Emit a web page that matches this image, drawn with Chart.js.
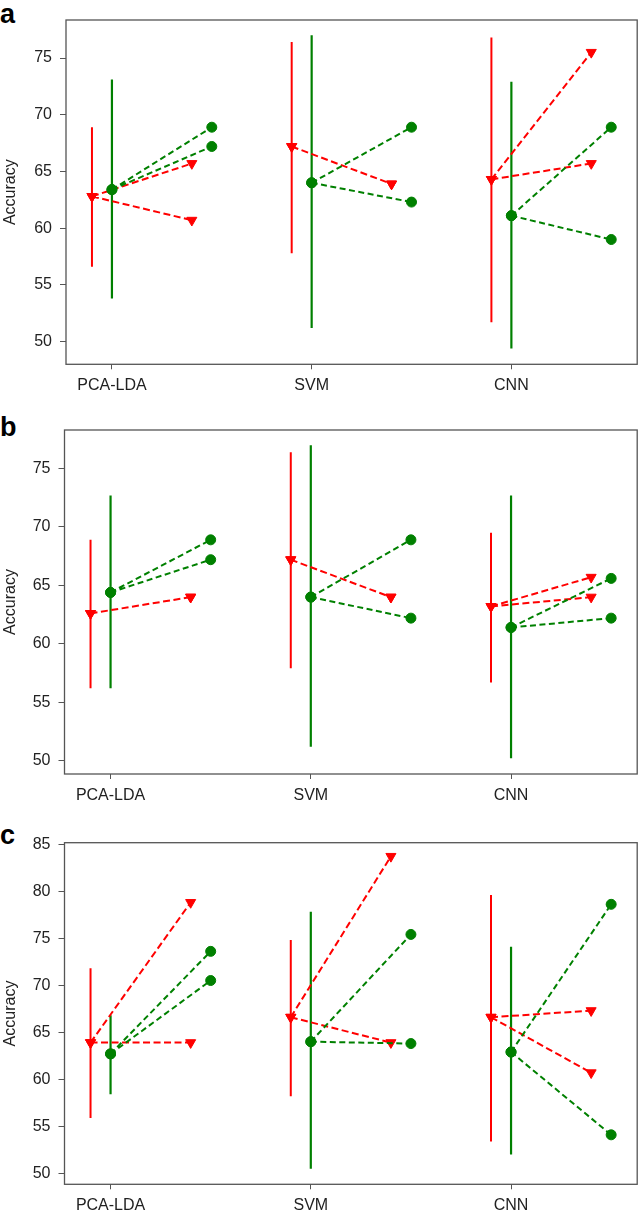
<!DOCTYPE html>
<html>
<head>
<meta charset="utf-8">
<script src="https://cdn.jsdelivr.net/npm/chart.js@4.4.1/dist/chart.umd.min.js"></script>
<style>
  html, body { margin: 0; padding: 0; background: #fff; }
  body { width: 644px; height: 1219px; position: relative; overflow: hidden; font-family: "Liberation Sans", Arial, sans-serif; }
  .wrap { position: absolute; left: 0; width: 644px; }
  .wrap canvas { display: block; }
  .lab { position: absolute; left: 0px; font-weight: bold; font-size: 27px; line-height: 27px; color: #000; }
</style>
</head>
<body>
<div class="lab" style="top:1px">a</div>
<div class="lab" style="top:414px">b</div>
<div class="lab" style="top:822px">c</div>
<div class="wrap" style="top:0px;height:405px"><canvas id="ca" width="644" height="405"></canvas></div>
<div class="wrap" style="top:405px;height:405px"><canvas id="cb" width="644" height="405"></canvas></div>
<div class="wrap" style="top:810px;height:409px"><canvas id="cc" width="644" height="409"></canvas></div>
<script>
const categories = ['PCA-LDA', 'SVM', 'CNN'];
const yTicksAB = [50, 55, 60, 65, 70, 75];
const yTicksC = [50, 55, 60, 65, 70, 75, 80, 85];

// Panel a
const aRedMean = [62.8, 67.2, 64.3];
const aRedLow = [56.6, 57.8, 51.7];
const aRedHigh = [68.9, 76.4, 76.8];
const aRedEnd1 = [65.7, 63.9, 75.5];
const aRedEnd2 = [60.7, 63.9, 65.7];
const aGreenMean = [63.4, 64.0, 61.1];
const aGreenLow = [53.8, 51.2, 49.4];
const aGreenHigh = [73.1, 77.0, 72.9];
const aGreenEnd1 = [68.9, 68.9, 68.9];
const aGreenEnd2 = [67.2, 62.3, 59.0];

// Panel b
const bRedMean = [62.6, 67.2, 63.2];
const bRedLow = [56.2, 57.9, 56.7];
const bRedHigh = [68.9, 76.4, 69.5];
const bRedEnd1 = [64.0, 64.0, 65.7];
const bRedEnd2 = [64.0, 64.0, 64.0];
const bGreenMean = [64.4, 64.0, 61.4];
const bGreenLow = [56.2, 51.2, 50.2];
const bGreenHigh = [72.7, 77.0, 72.7];
const bGreenEnd1 = [68.9, 68.9, 65.6];
const bGreenEnd2 = [67.2, 62.2, 62.2];

// Panel c
const cRedMean = [63.9, 66.6, 66.6];
const cRedLow = [55.9, 58.2, 53.4];
const cRedHigh = [71.8, 74.8, 79.6];
const cRedEnd1 = [78.8, 83.7, 67.3];
const cRedEnd2 = [63.9, 63.9, 60.7];
const cGreenMean = [62.7, 64.0, 62.9];
const cGreenLow = [58.4, 50.5, 52.0];
const cGreenHigh = [66.8, 77.8, 74.1];
const cGreenEnd1 = [73.6, 75.4, 78.6];
const cGreenEnd2 = [70.5, 63.8, 54.1];

const FONT = '"Liberation Sans", Arial, sans-serif';
const RED = '#ff0000';
const GREEN = '#008000';

function segs(list) {
  const out = [];
  list.forEach((p, k) => {
    if (k) out.push({ x: p[0], y: null });
    out.push({ x: p[0], y: p[1] }, { x: p[2], y: p[3] });
  });
  return out;
}

const framePlugin = {
  id: 'frame',
  afterDatasetsDraw(chart) {
    const a = chart.chartArea, ctx = chart.ctx;
    ctx.save();
    ctx.strokeStyle = '#555';
    ctx.lineWidth = 1.3;
    ctx.strokeRect(a.left, a.top, a.right - a.left, a.bottom - a.top);
    ctx.restore();
  }
};

function makeChart(id, p) {
  const errRed = segs(categories.map((c, i) => [i - 0.1, p.redLow[i], i - 0.1, p.redHigh[i]]));
  const errGreen = segs(categories.map((c, i) => [i, p.greenLow[i], i, p.greenHigh[i]]));
  const redLines = [], greenLines = [];
  categories.forEach((c, i) => {
    p.redEnds.forEach(e => redLines.push([i - 0.1, p.redMean[i], i + 0.4, e[i]]));
    p.greenEnds.forEach(e => greenLines.push([i, p.greenMean[i], i + 0.5, e[i]]));
  });
  new Chart(document.getElementById(id), {
    type: 'line',
    data: {
      datasets: [
        { data: errRed, borderColor: RED, borderWidth: 2, pointRadius: 0, spanGaps: false, order: 4 },
        { data: errGreen, borderColor: GREEN, borderWidth: 2.2, pointRadius: 0, spanGaps: false, order: 3 },
        { data: segs(redLines), borderColor: RED, borderWidth: 2, borderDash: [7, 3.5], pointStyle: 'triangle', rotation: 180,
          pointRadius: 5.8, pointBackgroundColor: RED, pointBorderColor: RED, pointBorderWidth: 1, spanGaps: false, order: 2 },
        { data: segs(greenLines), borderColor: GREEN, borderWidth: 2, borderDash: [6, 3.5], pointStyle: 'circle',
          pointRadius: 5, pointBackgroundColor: GREEN, pointBorderColor: GREEN, pointBorderWidth: 1, spanGaps: false, order: 1 }
      ]
    },
    options: {
      responsive: false,
      animation: false,
      events: [],
      layout: { padding: { top: p.padTop, right: 4, left: 0, bottom: 0 } },
      plugins: { legend: { display: false }, tooltip: { enabled: false } },
      scales: {
        x: {
          type: 'linear', min: -0.23, max: 2.63,
          afterBuildTicks: s => { s.ticks = categories.map((c, i) => ({ value: i })); },
          afterFit: s => { s.height = p.bottomH; },
          grid: { display: true, drawOnChartArea: false, drawTicks: true, tickLength: 5, color: '#555', lineWidth: 1 },
          border: { display: false },
          ticks: { callback: v => categories[v], font: { size: 16, family: FONT }, color: '#222', padding: 7, maxRotation: 0, autoSkip: false }
        },
        y: {
          min: p.yMin, max: p.yMax,
          afterBuildTicks: s => { s.ticks = p.yTicks.map(v => ({ value: v })); },
          afterFit: s => { s.width = p.leftW; },
          grid: { display: true, drawOnChartArea: false, drawTicks: true, tickLength: 6, color: '#555', lineWidth: 1 },
          border: { display: false },
          ticks: { font: { size: 16, family: FONT }, color: '#222', padding: 8 },
          title: { display: true, text: 'Accuracy', font: { size: 16, family: FONT }, color: '#222', padding: { top: 1, bottom: 0 } }
        }
      }
    },
    plugins: [framePlugin]
  });
}

makeChart('ca', {
  redMean: aRedMean, redLow: aRedLow, redHigh: aRedHigh, redEnds: [aRedEnd1, aRedEnd2],
  greenMean: aGreenMean, greenLow: aGreenLow, greenHigh: aGreenHigh, greenEnds: [aGreenEnd1, aGreenEnd2],
  yMin: 48.0, yMax: 78.35, yTicks: yTicksAB, padTop: 20, bottomH: 40.7, leftW: 66
});
makeChart('cb', {
  redMean: bRedMean, redLow: bRedLow, redHigh: bRedHigh, redEnds: [bRedEnd1, bRedEnd2],
  greenMean: bGreenMean, greenLow: bGreenLow, greenHigh: bGreenHigh, greenEnds: [bGreenEnd1, bGreenEnd2],
  yMin: 48.86, yMax: 78.3, yTicks: yTicksAB, padTop: 25, bottomH: 36, leftW: 64.5
});
makeChart('cc', {
  redMean: cRedMean, redLow: cRedLow, redHigh: cRedHigh, redEnds: [cRedEnd1, cRedEnd2],
  greenMean: cGreenMean, greenLow: cGreenLow, greenHigh: cGreenHigh, greenEnds: [cGreenEnd1, cGreenEnd2],
  yMin: 48.84, yMax: 85.15, yTicks: yTicksC, padTop: 32.7, bottomH: 34.7, leftW: 64.5
});
</script>
</body>
</html>
